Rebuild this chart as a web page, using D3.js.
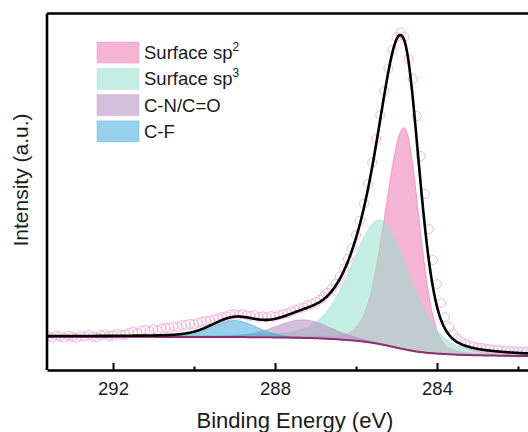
<!DOCTYPE html>
<html><head><meta charset="utf-8">
<script src="https://cdn.jsdelivr.net/npm/d3@7"></script>
<style>
html,body{margin:0;padding:0;background:#fff;}
svg{display:block;font-family:Arial,"Liberation Sans",Helvetica,sans-serif;}
</style></head><body>
<svg id="chart" width="528" height="432"></svg>
<script>
// Measured C 1s counts, scan from 293.6 eV downwards in 0.1 eV steps
const scanStart = 293.6, scanStep = 0.1;
const measuredCounts = [
  3360, 3250, 3420, 3380, 3230, 3440, 3310, 3200, 3390, 3350,
  3500, 3360, 3290, 3480, 3570, 3400, 3460, 3610, 3490, 3550,
  3730, 3840, 3690, 3930, 4010, 3880, 4090, 3970, 4150, 4210,
  4230, 4350, 4290, 4470, 4520, 4610, 4560, 4730, 4820, 4900,
  4960, 5080, 5170, 5290, 5360, 5530, 5610, 5520, 5580, 5450,
  5400, 5490, 5300, 5360, 5280, 5390, 5340, 5500, 5590, 5680,
  5880, 6000, 6170, 6260, 6450, 6590, 6800, 7030, 7330, 7720,
  8100, 8650, 9350, 10150, 11100, 12200, 13500, 14950, 16650, 18600,
  20750, 23100, 25500, 27900, 30150, 32000, 33300, 33750, 33300, 31100,
  29100, 25400, 21400, 17600, 14100, 11000, 8600, 6700, 5300, 4300,
  3600, 3150, 2850, 2620, 2460, 2360, 2250, 2220, 2130, 2100,
  2030, 2020, 1960, 1950, 1900, 1890, 1850, 1840, 1810, 1800
];

// C 1s fit components
const componentNames = ["Surface sp", "Surface sp", "C-N/C=O", "C-F"];
const componentSups = ["2", "3", "", ""];
const centers = [284.81, 285.40, 287.30, 289.00];        // eV
const fwhmsHigh = [1.10, 1.70, 1.60, 1.30];               // eV, high binding-energy side
const fwhmsLow = [0.86, 1.70, 1.60, 1.30];                // eV, low binding-energy side
const heights = [22150, 12400, 1800, 1650];               // counts above background
const lorentzFractions = [0.15, 0.30, 0.20, 0.10];
const fillColors = ["#ef77b1", "#96e0ca", "#b48bc3", "#42aad9"];
const swatchColors = ["#f6b4d4", "#c5eee2", "#d6bfde", "#97d0ea"];

// Shirley background
const bgEnergies = [293.6, 289.0, 288.0, 287.5, 287.0, 286.5, 286.0, 285.75, 285.5, 285.25, 285.0, 284.75, 284.5, 284.25, 284.0, 283.5, 283.0, 282.0, 281.0];
const bgCounts = [3330, 3300, 3260, 3230, 3180, 3080, 2930, 2810, 2660, 2460, 2230, 2020, 1840, 1720, 1640, 1530, 1470, 1400, 1370];

const majorTicks = [292, 288, 284];
const minorTicks = [290, 286, 282];

const W = 528, H = 432;
const mLeft = 47, mTop = 13.5, axisY = 370;
const x = d3.scaleLinear().domain([293.63, 281.0]).range([mLeft, mLeft + 12.63 * 40.5]);
const y = d3.scaleLinear().domain([0, 35600]).range([axisY, 14]);

const svg = d3.select("#chart");

function bgAt(e) {
  for (let i = 0; i < bgEnergies.length - 1; i++) {
    const a = bgEnergies[i], b = bgEnergies[i + 1];
    if (e <= a && e >= b) {
      const t = (a - e) / (a - b);
      return bgCounts[i] + t * (bgCounts[i + 1] - bgCounts[i]);
    }
  }
  return e > bgEnergies[0] ? bgCounts[0] : bgCounts[bgCounts.length - 1];
}
// Gaussian-Lorentzian sum line shape, separate widths on each side of the centre
function peak(i, e) {
  const w = e >= centers[i] ? fwhmsHigh[i] : fwhmsLow[i];
  const d2 = (e - centers[i]) ** 2, w2 = w * w, m = lorentzFractions[i];
  return heights[i] * ((1 - m) * Math.exp(-4 * Math.LN2 * d2 / w2) + m / (1 + 4 * d2 / w2));
}
const grid = d3.range(281.0, 293.64, 0.02).map(e => {
  const comps = centers.map((_, i) => peak(i, e));
  const bg = bgAt(e);
  return { e, bg, comps, env: bg + d3.sum(comps) };
});
const measured = measuredCounts.map((c, k) => ({ e: scanStart - k * scanStep, c }));

svg.append("defs").append("clipPath").attr("id", "plot")
  .append("rect").attr("x", mLeft).attr("y", mTop).attr("width", W).attr("height", axisY - mTop);
const plot = svg.append("g").attr("clip-path", "url(#plot)");

// component areas on top of the background
centers.forEach((_, i) => {
  const area = d3.area().x(d => x(d.e)).y0(d => y(d.bg)).y1(d => y(d.bg + d.comps[i]));
  plot.append("path").datum(grid).attr("d", area)
    .attr("fill", fillColors[i]).attr("fill-opacity", 0.55)
    .attr("stroke", fillColors[i]).attr("stroke-opacity", 0.6).attr("stroke-width", 1);
});

// measured points
plot.append("g").selectAll("circle").data(measured).join("circle")
  .attr("cx", d => x(d.e)).attr("cy", d => y(d.c)).attr("r", 4.5)
  .attr("fill", "none").attr("stroke", "#f0a3d3").attr("stroke-opacity", 0.8).attr("stroke-width", 1);

plot.append("path").datum(grid)
  .attr("d", d3.line().x(d => x(d.e)).y(d => y(d.bg)))
  .attr("fill", "none").attr("stroke", "#8e2f72").attr("stroke-width", 2);

// fitted envelope
plot.append("path").datum(grid)
  .attr("d", d3.line().x(d => x(d.e)).y(d => y(d.env)))
  .attr("fill", "none").attr("stroke", "#000").attr("stroke-width", 2.6);

// frame
svg.append("line").attr("x1", mLeft).attr("x2", W + 5).attr("y1", mTop).attr("y2", mTop).attr("stroke", "#000").attr("stroke-width", 2.6);
svg.append("line").attr("x1", mLeft).attr("x2", mLeft).attr("y1", mTop).attr("y2", axisY).attr("stroke", "#000").attr("stroke-width", 2.6);

const ax = svg.append("g").attr("transform", `translate(0,${axisY})`)
  .call(d3.axisBottom(x).tickValues(majorTicks).tickSizeInner(-7).tickSizeOuter(0).tickPadding(12).tickFormat(d3.format("d")));
ax.select(".domain").attr("stroke-width", 2.6);
ax.selectAll(".tick line").attr("stroke-width", 2);
ax.selectAll(".tick text").attr("font-size", 18.5).attr("fill", "#1a1a1a").attr("font-family", "Arial, 'Liberation Sans', sans-serif");
const axm = svg.append("g").attr("transform", `translate(0,${axisY})`)
  .call(d3.axisBottom(x).tickValues(minorTicks).tickSizeInner(-3.5).tickSizeOuter(0).tickFormat(""));
axm.select(".domain").remove();
axm.selectAll(".tick line").attr("stroke-width", 2);

svg.append("text").attr("x", 295).attr("y", 428).attr("text-anchor", "middle")
  .attr("font-size", 22).attr("fill", "#1a1a1a").text("Binding Energy (eV)");
svg.append("text").attr("transform", "translate(28,180) rotate(-90)").attr("text-anchor", "middle")
  .attr("font-size", 21).attr("fill", "#1a1a1a").text("Intensity (a.u.)");

// legend
const lg = svg.append("g");
componentNames.forEach((n, i) => {
  const yy = 42 + i * 26.3;
  lg.append("rect").attr("x", 97).attr("y", yy).attr("width", 42).attr("height", 21)
    .attr("fill", swatchColors[i]).attr("stroke", fillColors[i]).attr("stroke-opacity", 0.35).attr("stroke-width", 1);
  const t = lg.append("text").attr("x", 144).attr("y", yy + 17).attr("font-size", 18.5).attr("fill", "#1a1a1a").text(n);
  if (componentSups[i]) t.append("tspan").attr("font-size", 12).attr("dy", -8).text(componentSups[i]);
});
</script>
</body></html>
